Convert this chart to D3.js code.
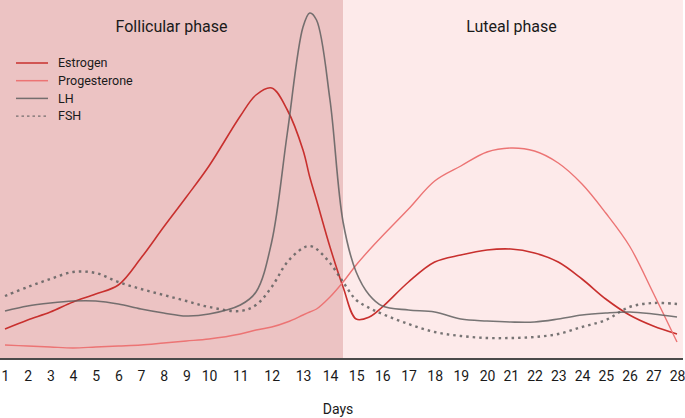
<!DOCTYPE html>
<html>
<head>
<meta charset="utf-8">
<script src="https://cdn.jsdelivr.net/npm/d3@7"></script>
<style>
  body { margin: 0; background: #fff; }
  text { font-family: Roboto, "Noto Sans", sans-serif; fill: #1a1a1a; }
</style>
</head>
<body>
<div id="chart"></div>
<script>
// hormone levels, arbitrary units
var days = [1, 2, 3, 4, 5, 6, 7, 8, 9, 10, 11, 11.5, 12, 12.5, 13, 13.25, 13.5, 14, 14.5, 15, 15.5,
            16, 17, 18, 19, 20, 21, 22, 23, 24, 25, 26, 27, 28];
var estrogen = [29, 38, 46, 56, 64, 73, 100, 131, 161, 192, 242, 263, 270, 248, 208, 181, 158, 111, 71, 39, 41,
                51, 76, 96, 103, 108, 109, 105, 96, 79, 59, 43, 32, 24];
var progesterone = [13, 12, 11, 10, 11, 12, 13, 15, 17, 19, 24, 28, 31, 36, 43, 46, 49, 61, 76, 93, 108,
                    122, 149, 177, 192, 206, 210, 207, 195, 174, 145, 112, 65, 16];
var lh = [47, 52, 55, 57, 57, 54, 49, 45, 42, 44, 53, 66, 116, 225, 331, 345, 338, 258, 136, 86, 63,
          52, 48, 46, 39, 37, 36, 36, 39, 43, 45, 46, 44, 41];
var fsh = [62, 71, 79, 86, 85, 76, 69, 63, 57, 51, 47, 53, 71, 96, 110, 112, 109, 95, 76, 58, 50,
           44, 34, 26, 22, 20, 20, 21, 24, 31, 38, 51, 55, 54];

var tickDays = d3.range(1, 29);
var phases = [
  { name: 'Follicular phase', from: 0.78, to: 14.5, fill: '#ecc3c3' },
  { name: 'Luteal phase', from: 14.5, to: 28.25, fill: '#fdeaea' }
];
var series = [
  { name: 'Estrogen', values: estrogen, color: '#c8302e', width: 1.6, dash: null },
  { name: 'Progesterone', values: progesterone, color: '#ec7474', width: 1.4, dash: null },
  { name: 'LH', values: lh, color: 'rgba(95,95,95,0.85)', width: 1.6, dash: null },
  { name: 'FSH', values: fsh, color: 'rgba(95,95,95,0.85)', width: 2.4, dash: '2.5,4' }
];

var width = 685, height = 418;
var svg = d3.select('#chart').append('svg').attr('width', width).attr('height', height);

// day labels are not evenly spaced in the original, so a piecewise scale
var x = d3.scaleLinear()
  .domain([1, 10, 13, 14, 20, 28])
  .range([5, 209, 303, 330, 487, 677]);
var y = d3.scaleLinear().domain([0, 350]).range([358, 8]);

svg.selectAll('rect.phase')
  .data(phases)
  .enter()
  .append('rect')
  .attr('class', 'phase')
  .attr('x', function(d) { return x(d.from); })
  .attr('width', function(d) { return x(d.to) - x(d.from); })
  .attr('y', 0)
  .attr('height', y(0) + 1)
  .attr('fill', function(d) { return d.fill; });

svg.selectAll('text.phase')
  .data(phases)
  .enter()
  .append('text')
  .attr('class', 'phase')
  .attr('x', function(d, i) { return i === 0 ? 171.5 : 511.5; })
  .attr('y', 32)
  .attr('text-anchor', 'middle')
  .style('font-size', '16px')
  .text(function(d) { return d.name; });

var line = d3.line()
  .x(function(d) { return x(d[0]); })
  .y(function(d) { return y(d[1]); })
  .curve(d3.curveCatmullRom.alpha(0.5));

svg.selectAll('path.series')
  .data(series)
  .enter()
  .append('path')
  .attr('class', 'series')
  .attr('d', function(s) { return line(days.map(function(d, i) { return [d, s.values[i]]; })); })
  .attr('fill', 'none')
  .attr('stroke', function(s) { return s.color; })
  .attr('stroke-width', function(s) { return s.width; })
  .attr('stroke-dasharray', function(s) { return s.dash; });

// x axis
var xAxis = svg.append('g')
  .attr('transform', 'translate(0,' + (y(0) + 1) + ')')
  .call(d3.axisBottom(x).tickValues(tickDays).tickSize(0).tickPadding(12).tickFormat(d3.format('d')));
xAxis.select('.domain')
  .attr('d', 'M0,0H683')
  .attr('stroke', '#4a4a4a')
  .attr('stroke-width', 2);
xAxis.selectAll('text')
  .style('font-size', '14px')
  .style('font-family', 'Roboto, sans-serif')
  .attr('fill', '#1a1a1a');

svg.append('text')
  .attr('x', 338)
  .attr('y', 414)
  .attr('text-anchor', 'middle')
  .style('font-size', '14px')
  .text('Days');

// legend
var legend = svg.append('g').attr('transform', 'translate(16,63)');
var item = legend.selectAll('g')
  .data(series)
  .enter()
  .append('g')
  .attr('transform', function(d, i) { return 'translate(0,' + (i * 17.7) + ')'; });
item.append('line')
  .attr('x1', 0).attr('x2', 32)
  .attr('stroke', function(d) { return d.color; })
  .attr('stroke-width', function(d) { return d.dash ? 1.2 : 1.5; })
  .attr('stroke-dasharray', function(d) { return d.dash ? '2.5,3' : null; });
item.append('text')
  .attr('x', 42)
  .attr('dy', '0.35em')
  .style('font-size', '12.5px')
  .attr('fill', '#2a2a2a')
  .text(function(d) { return d.name; });
</script>
</body>
</html>
